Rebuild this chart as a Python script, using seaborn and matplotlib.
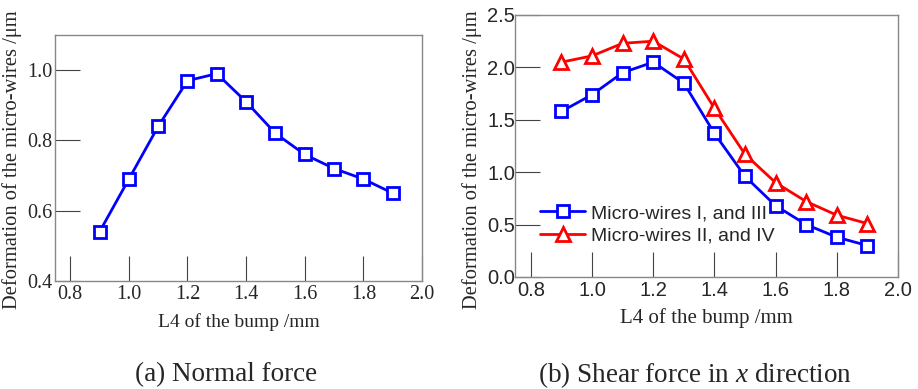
import numpy as np
import pandas as pd
import matplotlib
matplotlib.use("Agg")
import matplotlib.pyplot as plt
import seaborn as sns

# Data
L4 = [0.9, 1.0, 1.1, 1.2, 1.3, 1.4, 1.5, 1.6, 1.7, 1.8, 1.9]
normal_force = [0.54, 0.69, 0.84, 0.97, 0.99, 0.91, 0.82, 0.76, 0.72, 0.69, 0.65]
shear_I_III = [1.58, 1.74, 1.95, 2.05, 1.85, 1.37, 0.96, 0.68, 0.50, 0.38, 0.30]
shear_II_IV = [2.05, 2.11, 2.23, 2.25, 2.08, 1.61, 1.17, 0.90, 0.72, 0.59, 0.51]
series_names = ["Micro-wires I, and III", "Micro-wires II, and IV"]
xticks = [0.8, 1.0, 1.2, 1.4, 1.6, 1.8, 2.0]
yticks_a = [0.4, 0.6, 0.8, 1.0]
yticks_b = [0.0, 0.5, 1.0, 1.5, 2.0, 2.5]

sns.set_style("white")
plt.rcParams['font.family'] = ['Liberation Serif', 'DejaVu Serif']
plt.rcParams['mathtext.fontset'] = 'custom'
plt.rcParams['mathtext.it'] = 'Liberation Serif:italic'
plt.rcParams['mathtext.rm'] = 'Liberation Serif'

fig = plt.figure(figsize=(9.18, 3.89), dpi=100)
W, H = 918, 389
ax1 = fig.add_axes([55 / W, 1 - 281 / H, (422 - 55) / W, (281 - 35) / H])
ax2 = fig.add_axes([515 / W, 1 - 277 / H, (898 - 515) / W, (277 - 15) / H])

dfa = pd.DataFrame({"L4": L4, "val": normal_force})
sns.lineplot(data=dfa, x="L4", y="val", ax=ax1, color="#0000ff", lw=2,
             marker="s", markersize=8, markerfacecolor="white",
             markeredgecolor="#0000ff", markeredgewidth=2)

dfb = pd.DataFrame({"L4": L4 * 2, "val": shear_I_III + shear_II_IV,
                    "series": [series_names[0]] * len(L4) + [series_names[1]] * len(L4)})
pal = {series_names[0]: "#0000ff", series_names[1]: "#ff0000"}
for name, mk, ms in [(series_names[0], "s", 8), (series_names[1], "^", 10)]:
    sub = dfb[dfb.series == name]
    sns.lineplot(data=sub, x="L4", y="val", ax=ax2, color=pal[name], lw=2,
                 marker=mk, markersize=ms, markerfacecolor="white",
                 markeredgecolor=pal[name], markeredgewidth=2, label=name)

for ax, yt, ylim, fam, fs, ypad in [(ax1, yticks_a, (0.4, 1.1), 'Liberation Serif', 14.5, 2),
                                    (ax2, yticks_b, (0.0, 2.5), 'Liberation Sans', 14.5, 0)]:
    ax.set_xlim(0.748, 2.0)
    ax.set_ylim(*ylim)
    ax.set_xticks(xticks)
    ax.set_yticks(yt)
    ax.set_xticklabels([f"{v:.1f}" for v in xticks], family=fam, fontsize=fs)
    ax.set_yticklabels([f"{v:.1f}" for v in yt], family=fam, fontsize=fs)
    ax.tick_params(axis="x", direction="in", length=18, width=0.8, color="#444444", pad=3,
                   bottom=True, top=False)
    ax.tick_params(axis="y", direction="in", length=18, width=0.8, color="#444444", pad=ypad,
                   left=True, right=False)
    for s in ax.spines.values():
        s.set_color("#888888")
        s.set_linewidth(1)
    ax.grid(False)

ax1.set_xlabel("L4 of the bump /mm", fontsize=14)
ax2.set_xlabel("L4 of the bump /mm", fontsize=15)
ax1.set_ylabel("Deformation of the micro-wires /μm", fontsize=14.8)
ax2.set_ylabel("Deformation of the micro-wires /μm", fontsize=14.8)
ax1.xaxis.set_label_coords(0.5, -0.13)
ax2.xaxis.set_label_coords(0.5, -0.12)
ax1.yaxis.set_label_coords(-0.09, 0.495)
ax2.yaxis.set_label_coords(-0.086, 0.447)

leg = ax2.legend(loc="center left", bbox_to_anchor=(0.02, 0.2), frameon=False,
                 prop={'family': 'Liberation Sans', 'size': 14},
                 handlelength=2.3, handletextpad=0.3, labelspacing=0.25)

fig.text(226 / W, 1 - 375 / H, "(a) Normal force", ha="center", va="center", fontsize=19.5)
fig.text(695 / W, 1 - 375 / H, r"(b) Shear force in $\mathit{x}$ direction", ha="center",
         va="center", fontsize=19.5)

fig.savefig("out.png", dpi=100)
